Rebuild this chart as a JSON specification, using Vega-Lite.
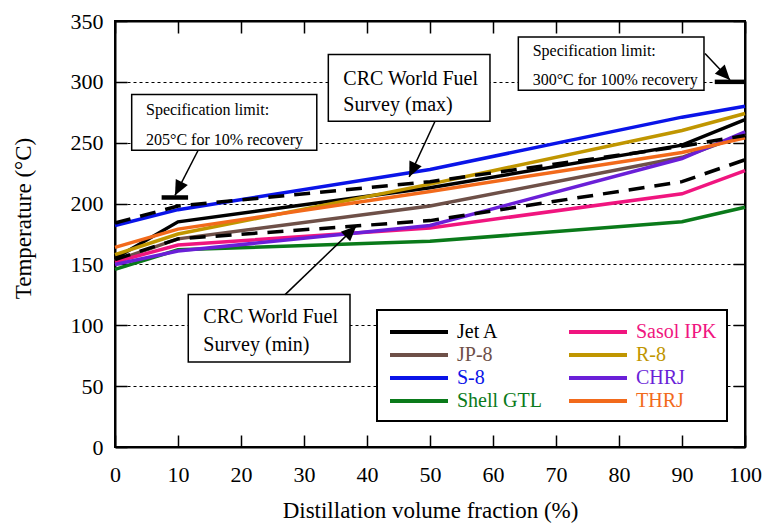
{
  "$schema": "https://vega.github.io/schema/vega-lite/v6.json",
  "width": 630,
  "height": 426,
  "autosize": "none",
  "padding": {"left": 115, "top": 21, "right": 22, "bottom": 76},
  "background": "white",
  "config": {
    "view": {"stroke": "black", "strokeWidth": 2},
    "font": "Liberation Serif",
    "style": {
      "guide-label": {"font": "Liberation Serif", "fill": "black"},
      "guide-title": {"font": "Liberation Serif", "fill": "black"}
    },
    "axis": {
      "labelFont": "Liberation Serif",
      "titleFont": "Liberation Serif",
      "labelFontSize": 22,
      "titleFontSize": 23,
      "titleFontWeight": "normal",
      "labelColor": "black",
      "titleColor": "black",
      "domainColor": "black",
      "domainWidth": 2,
      "tickColor": "black",
      "tickWidth": 1.5,
      "tickSize": -12,
      "grid": false,
      "labelOverlap": false
    },
    "legend": {"labelFont": "Liberation Serif"}
  },
  "datasets": {
    "fuels": [
      {"fuel": "Jet A", "x": 0, "temp": 155}, {"fuel": "Jet A", "x": 10, "temp": 185}, {"fuel": "Jet A", "x": 50, "temp": 213}, {"fuel": "Jet A", "x": 90, "temp": 248}, {"fuel": "Jet A", "x": 100, "temp": 269},
      {"fuel": "JP-8", "x": 0, "temp": 153}, {"fuel": "JP-8", "x": 10, "temp": 171}, {"fuel": "JP-8", "x": 50, "temp": 198}, {"fuel": "JP-8", "x": 90, "temp": 238}, {"fuel": "JP-8", "x": 100, "temp": 257},
      {"fuel": "S-8", "x": 0, "temp": 182}, {"fuel": "S-8", "x": 10, "temp": 195}, {"fuel": "S-8", "x": 50, "temp": 228}, {"fuel": "S-8", "x": 90, "temp": 271}, {"fuel": "S-8", "x": 100, "temp": 280},
      {"fuel": "Shell GTL", "x": 0, "temp": 146}, {"fuel": "Shell GTL", "x": 10, "temp": 162}, {"fuel": "Shell GTL", "x": 50, "temp": 169}, {"fuel": "Shell GTL", "x": 90, "temp": 185}, {"fuel": "Shell GTL", "x": 100, "temp": 197},
      {"fuel": "Sasol IPK", "x": 0, "temp": 152}, {"fuel": "Sasol IPK", "x": 10, "temp": 166}, {"fuel": "Sasol IPK", "x": 50, "temp": 180}, {"fuel": "Sasol IPK", "x": 90, "temp": 208}, {"fuel": "Sasol IPK", "x": 100, "temp": 227},
      {"fuel": "R-8", "x": 0, "temp": 158}, {"fuel": "R-8", "x": 10, "temp": 175}, {"fuel": "R-8", "x": 50, "temp": 216}, {"fuel": "R-8", "x": 90, "temp": 260}, {"fuel": "R-8", "x": 100, "temp": 274},
      {"fuel": "CHRJ", "x": 0, "temp": 150}, {"fuel": "CHRJ", "x": 10, "temp": 161}, {"fuel": "CHRJ", "x": 50, "temp": 182}, {"fuel": "CHRJ", "x": 90, "temp": 237}, {"fuel": "CHRJ", "x": 100, "temp": 259},
      {"fuel": "THRJ", "x": 0, "temp": 164}, {"fuel": "THRJ", "x": 10, "temp": 179}, {"fuel": "THRJ", "x": 50, "temp": 210}, {"fuel": "THRJ", "x": 90, "temp": 242}, {"fuel": "THRJ", "x": 100, "temp": 254}
    ],
    "crc": [
      {"series": "max", "x": 0, "temp": 184}, {"series": "max", "x": 10, "temp": 198}, {"series": "max", "x": 50, "temp": 218}, {"series": "max", "x": 90, "temp": 247}, {"series": "max", "x": 100, "temp": 256},
      {"series": "min", "x": 0, "temp": 154}, {"series": "min", "x": 10, "temp": 171}, {"series": "min", "x": 50, "temp": 186}, {"series": "min", "x": 90, "temp": 218}, {"series": "min", "x": 100, "temp": 236}
    ],
    "specs": [
      {"x": 7.4, "x2": 11.6, "temp": 205},
      {"x": 95.2, "x2": 100, "temp": 300}
    ],
    "boxes": [
      {"box": "spec205", "x": 2.65, "x2": 32.03, "y": 289.6, "y2": 243.8},
      {"box": "crcmax", "x": 33.86, "x2": 59.52, "y": 322.4, "y2": 267.6},
      {"box": "spec300", "x": 64.02, "x2": 93.49, "y": 336.9, "y2": 293.1},
      {"box": "crcmin", "x": 11.63, "x2": 37.3, "y": 125.2, "y2": 69.8}
    ],
    "arrows": [
      {"id": "a1", "x": 13.2, "y": 243.8, "x2": 9.52, "y2": 206.7},
      {"id": "a2", "x": 50.8, "y": 267.6, "x2": 46.7, "y2": 221.9},
      {"id": "a3", "x": 27.0, "y": 125.2, "x2": 38.3, "y2": 181.5},
      {"id": "a4", "x": 93.65, "y": 323.3, "x2": 97.62, "y2": 301.5}
    ],
    "texts": [
      {"kind": "spec", "x": 4.92, "temp": 276.7, "label": "Specification limit:"},
      {"kind": "spec", "x": 4.92, "temp": 252.0, "label": "205°C for 10% recovery"},
      {"kind": "spec", "x": 66.3, "temp": 325.1, "label": "Specification limit:"},
      {"kind": "spec", "x": 66.3, "temp": 301.3, "label": "300°C for 100% recovery"},
      {"kind": "crc", "x": 36.24, "temp": 302.7, "label": "CRC World Fuel"},
      {"kind": "crc", "x": 36.24, "temp": 280.8, "label": "Survey (max)"},
      {"kind": "crc", "x": 14.02, "temp": 106.8, "label": "CRC World Fuel"},
      {"kind": "crc", "x": 14.02, "temp": 83.6, "label": "Survey (min)"}
    ]
  },
  "layer": [
    {
      "data": {"name": "fuels"},
      "mark": {"type": "line", "strokeWidth": 3.5},
      "encoding": {
        "x": {
          "field": "x", "type": "quantitative",
          "scale": {"domain": [0, 100], "nice": false},
          "axis": {
            "orient": "bottom",
            "values": [0, 10, 20, 30, 40, 50, 60, 70, 80, 90, 100],
            "title": "Distillation volume fraction (%)",
            "labelFont": "Liberation Serif",
            "titleFont": "Liberation Serif",
            "labelPadding": 29,
            "labelFlush": false,
            "titleY": 70,
            "titleBaseline": "alphabetic"
          }
        },
        "y": {
          "field": "temp", "type": "quantitative",
          "scale": {"domain": [0, 350], "nice": false, "zero": false},
          "axis": {
            "orient": "left",
            "values": [0, 50, 100, 150, 200, 250, 300, 350],
            "title": "Temperature (°C)",
            "labelFont": "Liberation Serif",
            "titleFont": "Liberation Serif",
            "labelPadding": 24,
            "grid": true,
            "gridDash": [3, 3],
            "gridColor": "black",
            "gridWidth": 1.2,
            "titleX": -92,
            "titleY": 197,
            "titleAngle": -90,
            "titleBaseline": "middle",
            "titleAlign": "center"
          }
        },
        "color": {
          "field": "fuel", "type": "nominal",
          "scale": {
            "domain": ["Jet A", "JP-8", "S-8", "Shell GTL", "Sasol IPK", "R-8", "CHRJ", "THRJ"],
            "range": ["#000000", "#6e5048", "#0a14e8", "#0a7a1a", "#f0157f", "#c09600", "#6a1fd8", "#f26a1b"]
          },
          "legend": {
            "orient": "none",
            "legendX": 262,
            "legendY": 289,
            "columns": 2,
            "direction": "vertical",
            "title": null,
            "symbolType": "M-0.9,0L4.9,0",
            "symbolSize": 400,
            "symbolStrokeWidth": 4,
            "labelOffset": 46,
            "columnPadding": 19,
            "rowPadding": 1,
            "padding": 10,
            "labelFont": "Liberation Serif",
            "labelFontSize": 20,
            "labelLimit": 300,
            "strokeColor": "black",
            "fillColor": "white",
            "encode": {
              "labels": {"update": {"fill": {"scale": "color", "field": "value"}, "font": {"value": "Liberation Serif"}}},
              "legend": {"update": {"strokeWidth": {"value": 2}}}
            }
          }
        }
      }
    },
    {
      "data": {"name": "crc"},
      "mark": {"type": "line", "color": "black", "strokeWidth": 3.5, "strokeDash": [16, 10]},
      "encoding": {
        "x": {
          "field": "x", "type": "quantitative",
          "scale": {"domain": [0, 100], "nice": false},
          "axis": {"orient": "top", "labels": false, "title": null, "values": [0, 10, 20, 30, 40, 50, 60, 70, 80, 90, 100]}
        },
        "y": {
          "field": "temp", "type": "quantitative",
          "scale": {"domain": [0, 350], "nice": false, "zero": false},
          "axis": {"orient": "right", "labels": false, "title": null, "values": [0, 50, 100, 150, 200, 250, 300, 350]}
        },
        "detail": {"field": "series"}
      }
    },
    {
      "data": {"name": "specs"},
      "mark": {"type": "rule", "color": "black", "strokeWidth": 4.5},
      "encoding": {
        "x": {"field": "x", "type": "quantitative", "scale": {"domain": [0, 100]}, "axis": null},
        "x2": {"field": "x2"},
        "y": {"field": "temp", "type": "quantitative", "scale": {"domain": [0, 350]}, "axis": null}
      }
    },
    {
      "data": {"name": "boxes"},
      "mark": {"type": "rect", "fill": "white", "stroke": "black", "strokeWidth": 1.5},
      "encoding": {
        "x": {"field": "x", "type": "quantitative", "scale": {"domain": [0, 100]}, "axis": null},
        "x2": {"field": "x2"},
        "y": {"field": "y", "type": "quantitative", "scale": {"domain": [0, 350]}, "axis": null},
        "y2": {"field": "y2"}
      }
    },
    {
      "data": {"name": "arrows"},
      "mark": {"type": "rule", "color": "black", "strokeWidth": 1.5},
      "encoding": {
        "x": {"field": "x", "type": "quantitative", "scale": {"domain": [0, 100]}, "axis": null},
        "x2": {"field": "x2"},
        "y": {"field": "y", "type": "quantitative", "scale": {"domain": [0, 350]}, "axis": null},
        "y2": {"field": "y2"}
      }
    },
    {
      "data": {"name": "arrows"},
      "transform": [{"filter": "datum.id == 'a1'"}],
      "mark": {"type": "point", "filled": true, "color": "black", "opacity": 1, "shape": "M0,0L-0.45,1L0.45,1Z", "size": 900, "angle": 207},
      "encoding": {
        "x": {"field": "x2", "type": "quantitative", "scale": {"domain": [0, 100]}, "axis": null},
        "y": {"field": "y2", "type": "quantitative", "scale": {"domain": [0, 350]}, "axis": null}
      }
    },
    {
      "data": {"name": "arrows"},
      "transform": [{"filter": "datum.id == 'a2'"}],
      "mark": {"type": "point", "filled": true, "color": "black", "opacity": 1, "shape": "M0,0L-0.45,1L0.45,1Z", "size": 900, "angle": 205},
      "encoding": {
        "x": {"field": "x2", "type": "quantitative", "scale": {"domain": [0, 100]}, "axis": null},
        "y": {"field": "y2", "type": "quantitative", "scale": {"domain": [0, 350]}, "axis": null}
      }
    },
    {
      "data": {"name": "arrows"},
      "transform": [{"filter": "datum.id == 'a3'"}],
      "mark": {"type": "point", "filled": true, "color": "black", "opacity": 1, "shape": "M0,0L-0.45,1L0.45,1Z", "size": 900, "angle": 46},
      "encoding": {
        "x": {"field": "x2", "type": "quantitative", "scale": {"domain": [0, 100]}, "axis": null},
        "y": {"field": "y2", "type": "quantitative", "scale": {"domain": [0, 350]}, "axis": null}
      }
    },
    {
      "data": {"name": "arrows"},
      "transform": [{"filter": "datum.id == 'a4'"}],
      "mark": {"type": "point", "filled": true, "color": "black", "opacity": 1, "shape": "M0,0L-0.45,1L0.45,1Z", "size": 900, "angle": 137},
      "encoding": {
        "x": {"field": "x2", "type": "quantitative", "scale": {"domain": [0, 100]}, "axis": null},
        "y": {"field": "y2", "type": "quantitative", "scale": {"domain": [0, 350]}, "axis": null}
      }
    },
    {
      "data": {"name": "texts"},
      "transform": [{"filter": "datum.kind == 'spec'"}],
      "mark": {"type": "text", "align": "left", "baseline": "middle", "font": "Liberation Serif", "fontSize": 16, "color": "black"},
      "encoding": {
        "x": {"field": "x", "type": "quantitative", "scale": {"domain": [0, 100]}, "axis": null},
        "y": {"field": "temp", "type": "quantitative", "scale": {"domain": [0, 350]}, "axis": null},
        "text": {"field": "label"}
      }
    },
    {
      "data": {"name": "texts"},
      "transform": [{"filter": "datum.kind == 'crc'"}],
      "mark": {"type": "text", "align": "left", "baseline": "middle", "font": "Liberation Serif", "fontSize": 20, "color": "black"},
      "encoding": {
        "x": {"field": "x", "type": "quantitative", "scale": {"domain": [0, 100]}, "axis": null},
        "y": {"field": "temp", "type": "quantitative", "scale": {"domain": [0, 350]}, "axis": null},
        "text": {"field": "label"}
      }
    }
  ],
  "resolve": {"axis": {"x": "independent", "y": "independent"}}
}
